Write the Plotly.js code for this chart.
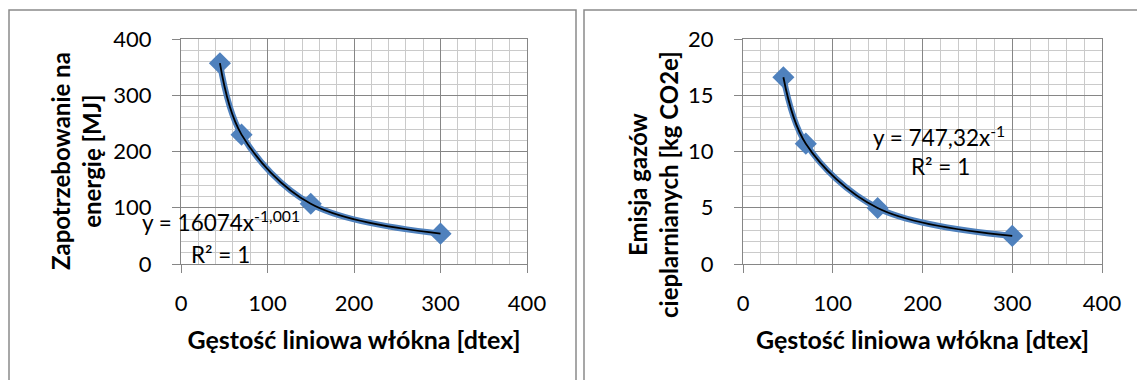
<!DOCTYPE html>
<html>
<head>
<meta charset="utf-8">
<script src="https://cdn.plot.ly/plotly-3.0.1.min.js"></script>
<style>html,body{margin:0;padding:0;background:#fff;}#chart{width:1137px;height:380px;}</style>
</head>
<body>
<div id="chart"></div>
<script>
// Data
const dtex = [45, 70, 150, 300];
const energyMJ = [357, 230, 107, 54];
const emissionKg = [16.6, 10.7, 4.98, 2.5];
const xTitle = 'Gęstość liniowa włókna [dtex]';
const yTitleLeft = 'Zapotrzebowanie na<br>energię [MJ]';
const yTitleRight = 'Emisja gazów<br>cieplarnianych [kg CO2e]';
const eqLeft = 'y = 16074x<sup>-1,001</sup>';
const eqRight = 'y = 747,32x<sup>-1</sup>';
const r2Text = 'R² = 1';

const W = 1137, H = 380;
const px = v => v / W;
const py = v => 1 - v / H;
const FONT = 'Lato, "Liberation Sans", sans-serif';
const BLUE = '#4F81BD';

function seriesTraces(y, xa, ya) {
  return [
    {x: dtex, y: y, xaxis: xa, yaxis: ya, type: 'scatter', mode: 'lines+markers',
     line: {color: BLUE, width: 6, shape: 'spline', smoothing: 1},
     marker: {symbol: 'diamond', size: 17, color: BLUE}, hoverinfo: 'x+y', showlegend: false},
    {x: dtex, y: y, xaxis: xa, yaxis: ya, type: 'scatter', mode: 'lines',
     line: {color: '#000000', width: 1.8, shape: 'spline', smoothing: 1},
     hoverinfo: 'skip', showlegend: false}
  ];
}

const data = [].concat(seriesTraces(energyMJ, 'x', 'y'), seriesTraces(emissionKg, 'x2', 'y2'));

function xAxis(domain, anchor) {
  return {
    domain: domain, anchor: anchor, range: [0, 400], dtick: 100, tick0: 0,
    showline: true, mirror: true, linecolor: '#868686', linewidth: 1,
    showgrid: true, gridcolor: '#868686', gridwidth: 1, zeroline: false,
    ticks: 'outside', ticklen: 8, tickcolor: '#868686', tickwidth: 1,
    ticklabelstandoff: 12,
    minor: {dtick: 20, showgrid: true, gridcolor: '#cacaca', gridwidth: 1, ticks: ''},
    tickfont: {family: FONT, size: 22, color: '#000'},
    title: {text: xTitle, standoff: 16, font: {family: FONT, size: 25, color: '#000', weight: 'bold'}},
    fixedrange: true
  };
}
function yAxis(domain, anchor, max, dt, minorDt) {
  return {
    domain: domain, anchor: anchor, range: [0, max], dtick: dt, tick0: 0,
    showline: true, mirror: true, linecolor: '#868686', linewidth: 1,
    showgrid: true, gridcolor: '#868686', gridwidth: 1, zeroline: false,
    ticks: 'outside', ticklen: 8, tickcolor: '#868686', tickwidth: 1,
    ticklabelstandoff: 16,
    minor: {dtick: minorDt, showgrid: true, gridcolor: '#cacaca', gridwidth: 1, ticks: ''},
    tickfont: {family: FONT, size: 22, color: '#000'},
    fixedrange: true
  };
}

const yDom = [1 - 264 / H, 1 - 39 / H];

const annFont = {family: FONT, size: 22.5, color: '#000'};
const layout = {
  width: W, height: H,
  margin: {l: 0, r: 0, t: 0, b: 0},
  paper_bgcolor: '#fff', plot_bgcolor: '#fff',
  showlegend: false,
  xaxis: xAxis([px(181), px(527)], 'y'),
  yaxis: yAxis(yDom, 'x', 400, 100, 20),
  xaxis2: xAxis([px(743), px(1102)], 'y2'),
  yaxis2: yAxis(yDom, 'x2', 20, 5, 1),
  shapes: [
    {type: 'rect', xref: 'paper', yref: 'paper', x0: px(9), x1: px(576), y0: py(10), y1: -0.2,
     line: {color: '#8a8a8a', width: 1.5}, fillcolor: 'rgba(0,0,0,0)', layer: 'below'},
    {type: 'rect', xref: 'paper', yref: 'paper', x0: px(584), x1: 1.05, y0: py(10), y1: -0.2,
     line: {color: '#8a8a8a', width: 1.5}, fillcolor: 'rgba(0,0,0,0)', layer: 'below'}
  ],
  annotations: [
    {text: yTitleLeft, xref: 'paper', yref: 'paper', x: px(76), y: py(161), textangle: -90,
     xanchor: 'center', yanchor: 'middle', showarrow: false, align: 'center',
     font: {family: FONT, size: 24, color: '#000', weight: 'bold'}},
    {text: yTitleRight, xref: 'paper', yref: 'paper', x: px(653), y: py(185), textangle: -90,
     xanchor: 'center', yanchor: 'middle', showarrow: false, align: 'center',
     font: {family: FONT, size: 24, color: '#000', weight: 'bold'}},
    {text: eqLeft, xref: 'paper', yref: 'paper', x: px(140), y: py(221), xanchor: 'left', yanchor: 'middle',
     showarrow: false, font: annFont},
    {text: r2Text, xref: 'paper', yref: 'paper', x: px(189), y: py(254), xanchor: 'left', yanchor: 'middle',
     showarrow: false, font: annFont},
    {text: eqRight, xref: 'paper', yref: 'paper', x: px(871), y: py(136), xanchor: 'left', yanchor: 'middle',
     showarrow: false, font: annFont},
    {text: r2Text, xref: 'paper', yref: 'paper', x: px(909), y: py(166), xanchor: 'left', yanchor: 'middle',
     showarrow: false, font: annFont}
  ]
};

Plotly.newPlot('chart', data, layout, {displayModeBar: false, staticPlot: true});
</script>
</body>
</html>
